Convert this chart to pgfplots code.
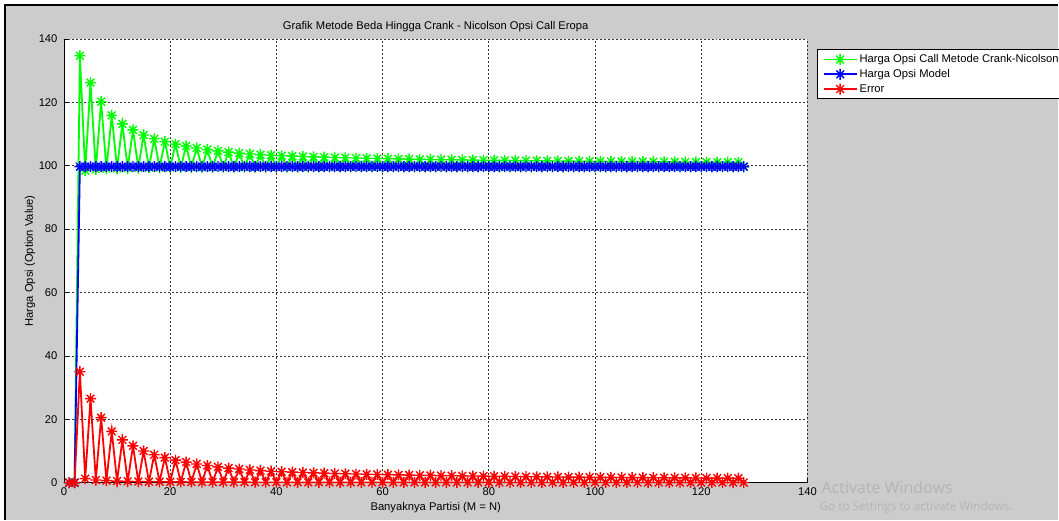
\documentclass[border=0pt]{standalone}
\usepackage{fontspec}
\setmainfont{Liberation Sans}
\newfontfamily\wmfont{Open Sans}
\usepackage{pgfplots}
\pgfplotsset{compat=1.18}
\usepackage{pgfplotstable}

\definecolor{figbg}{RGB}{204,204,204}
\definecolor{mgreen}{RGB}{0,255,0}
\definecolor{mblue}{RGB}{0,0,255}
\definecolor{mred}{RGB}{255,0,0}
\definecolor{wmgray}{RGB}{180,180,180}

% eight-armed asterisk marker
\pgfdeclareplotmark{matstar}{%
  \pgfpathmoveto{\pgfqpoint{-\pgfplotmarksize}{0pt}}%
  \pgfpathlineto{\pgfqpoint{\pgfplotmarksize}{0pt}}%
  \pgfpathmoveto{\pgfqpoint{0pt}{-\pgfplotmarksize}}%
  \pgfpathlineto{\pgfqpoint{0pt}{\pgfplotmarksize}}%
  \pgfpathmoveto{\pgfqpoint{-.707\pgfplotmarksize}{-.707\pgfplotmarksize}}%
  \pgfpathlineto{\pgfqpoint{.707\pgfplotmarksize}{.707\pgfplotmarksize}}%
  \pgfpathmoveto{\pgfqpoint{-.707\pgfplotmarksize}{.707\pgfplotmarksize}}%
  \pgfpathlineto{\pgfqpoint{.707\pgfplotmarksize}{-.707\pgfplotmarksize}}%
  \pgfusepathqstroke}

% M = N, Crank-Nicolson price, model price, absolute error
\pgfplotstableread{
x cn model err
1 0 0 0
2 0 0 0
3 134.7 99.7 35.0
4 98.45 99.7 1.25
5 126.2 99.7 26.5
6 98.87 99.7 0.83
7 120.2 99.7 20.5
8 99.07 99.7 0.63
9 115.9 99.7 16.2
10 99.20 99.7 0.50
11 113.2 99.7 13.5
12 99.28 99.7 0.42
13 111.3 99.7 11.6
14 99.34 99.7 0.36
15 109.7 99.7 10.0
16 99.39 99.7 0.31
17 108.5 99.7 8.8
18 99.42 99.7 0.28
19 107.6 99.7 7.9
20 99.45 99.7 0.25
21 106.8 99.7 7.1
22 99.47 99.7 0.23
23 106.2 99.7 6.5
24 99.49 99.7 0.21
25 105.6 99.7 5.9
26 99.51 99.7 0.19
27 105.1 99.7 5.4
28 99.52 99.7 0.18
29 104.7 99.7 5.0
30 99.53 99.7 0.17
31 104.3 99.7 4.6
32 99.54 99.7 0.16
33 104.0 99.7 4.3
34 99.55 99.7 0.15
35 103.7 99.7 4.0
36 99.56 99.7 0.14
37 103.5 99.7 3.8
38 99.57 99.7 0.13
39 103.3 99.7 3.6
40 99.57 99.7 0.13
41 103.15 99.7 3.45
42 99.58 99.7 0.12
43 103.03 99.7 3.33
44 99.59 99.7 0.11
45 102.91 99.7 3.21
46 99.59 99.7 0.11
47 102.80 99.7 3.10
48 99.60 99.7 0.10
49 102.70 99.7 3.00
50 99.60 99.7 0.10
51 102.60 99.7 2.90
52 99.61 99.7 0.09
53 102.51 99.7 2.81
54 99.61 99.7 0.09
55 102.43 99.7 2.73
56 99.61 99.7 0.09
57 102.35 99.7 2.65
58 99.61 99.7 0.09
59 102.28 99.7 2.58
60 99.61 99.7 0.09
61 102.21 99.7 2.51
62 99.62 99.7 0.08
63 102.15 99.7 2.45
64 99.62 99.7 0.08
65 102.09 99.7 2.39
66 99.62 99.7 0.08
67 102.03 99.7 2.33
68 99.62 99.7 0.08
69 101.98 99.7 2.28
70 99.62 99.7 0.08
71 101.93 99.7 2.23
72 99.62 99.7 0.08
73 101.88 99.7 2.18
74 99.63 99.7 0.07
75 101.83 99.7 2.13
76 99.63 99.7 0.07
77 101.79 99.7 2.09
78 99.63 99.7 0.07
79 101.74 99.7 2.04
80 99.63 99.7 0.07
81 101.70 99.7 2.00
82 99.63 99.7 0.07
83 101.67 99.7 1.97
84 99.64 99.7 0.06
85 101.63 99.7 1.93
86 99.64 99.7 0.06
87 101.59 99.7 1.89
88 99.64 99.7 0.06
89 101.56 99.7 1.86
90 99.64 99.7 0.06
91 101.53 99.7 1.83
92 99.64 99.7 0.06
93 101.49 99.7 1.79
94 99.64 99.7 0.06
95 101.46 99.7 1.76
96 99.64 99.7 0.06
97 101.43 99.7 1.73
98 99.64 99.7 0.06
99 101.41 99.7 1.71
100 99.65 99.7 0.05
101 101.38 99.7 1.68
102 99.65 99.7 0.05
103 101.35 99.7 1.65
104 99.65 99.7 0.05
105 101.33 99.7 1.63
106 99.65 99.7 0.05
107 101.30 99.7 1.60
108 99.65 99.7 0.05
109 101.28 99.7 1.58
110 99.65 99.7 0.05
111 101.26 99.7 1.56
112 99.65 99.7 0.05
113 101.24 99.7 1.54
114 99.65 99.7 0.05
115 101.21 99.7 1.51
116 99.65 99.7 0.05
117 101.19 99.7 1.49
118 99.65 99.7 0.05
119 101.17 99.7 1.47
120 99.65 99.7 0.05
121 101.15 99.7 1.45
122 99.65 99.7 0.05
123 101.13 99.7 1.43
124 99.65 99.7 0.05
125 101.12 99.7 1.42
126 99.66 99.7 0.04
127 101.10 99.7 1.40
128 99.66 99.7 0.04
}\partisi

\newcommand\figfont{\fontsize{11.2}{13.4}\selectfont}

\begin{document}
\begin{tikzpicture}[x=1pt,y=1pt]
  % window background and frame
  \fill[white] (0,0) rectangle (1059,520);
  \fill[figbg] (6,0) rectangle (1059,514);
  \draw[black,line width=1.5pt] (5.25,0) -- (5.25,514.75) -- (1059,514.75);
  \begin{axis}[
    at={(64pt,37pt)}, anchor=south west,
    width=744pt, height=444pt, scale only axis,
    xmin=0, xmax=140, ymin=0, ymax=140,
    xtick={0,20,...,140}, ytick={0,20,...,140},
    axis background/.style={fill=white},
    axis x line*=bottom, axis y line*=left,
    axis line style={-, black, line width=0.8pt},
    grid=major,
    major grid style={black!80, line width=0.7pt, dash pattern=on 2pt off 2pt},
    tick align=inside, major tick length=4pt,
    tick style={black, line width=0.6pt},
    ticklabel style={font=\figfont},
    /pgf/number format/assume math mode=true,
    xticklabel style={yshift=-2pt},
    yticklabel style={xshift=-3pt},
    clip=false,
    title={Grafik Metode Beda Hingga Crank - Nicolson Opsi Call Eropa},
    title style={font=\figfont, at={(axis description cs:0.5,1)}, anchor=base, yshift=3pt},
    xlabel={Banyaknya Partisi (M = N)},
    xlabel style={font=\figfont, at={(axis description cs:0.5,-0.063)}, anchor=base},
    ylabel={Harga Opsi (Option Value)},
    ylabel style={font=\figfont, at={(axis description cs:-0.0417,0.5)}, anchor=base},
    legend style={font=\figfont, at={(axis description cs:1.0134,0.9768)}, anchor=north west,
      draw=black, line width=0.8pt, fill=white, inner xsep=5pt, inner ysep=3pt,
      row sep=1.3pt, cells={anchor=west}, overlay},
    legend image code/.code={\draw[mark repeat=2,mark phase=2]
      plot coordinates {(0pt,0pt) (16.5pt,0pt) (33pt,0pt)};},
    series/.style={line width=1.8pt, mark=matstar, mark size=5.5pt,
      mark options={solid, line width=1.4pt}},
  ]
    \addplot[mgreen, series] table[x=x, y=cn] {\partisi};
    \addlegendentry{Harga Opsi Call Metode Crank-Nicolson}
    \addplot[mblue, series] table[x=x, y=model] {\partisi};
    \addlegendentry{Harga Opsi Model}
    \addplot[mred, series] table[x=x, y=err] {\partisi};
    \addlegendentry{Error}
  \end{axis}
  % desktop watermark
  \node[anchor=base west, inner sep=0pt, text=wmgray, font=\wmfont\fontsize{16}{19}\selectfont] at (822,26) {Activate Windows};
  \node[anchor=base west, inner sep=0pt, text=wmgray, font=\wmfont\fontsize{11.8}{14}\selectfont] at (820,9) {Go to Settings to activate Windows.};
\end{tikzpicture}
\end{document}
